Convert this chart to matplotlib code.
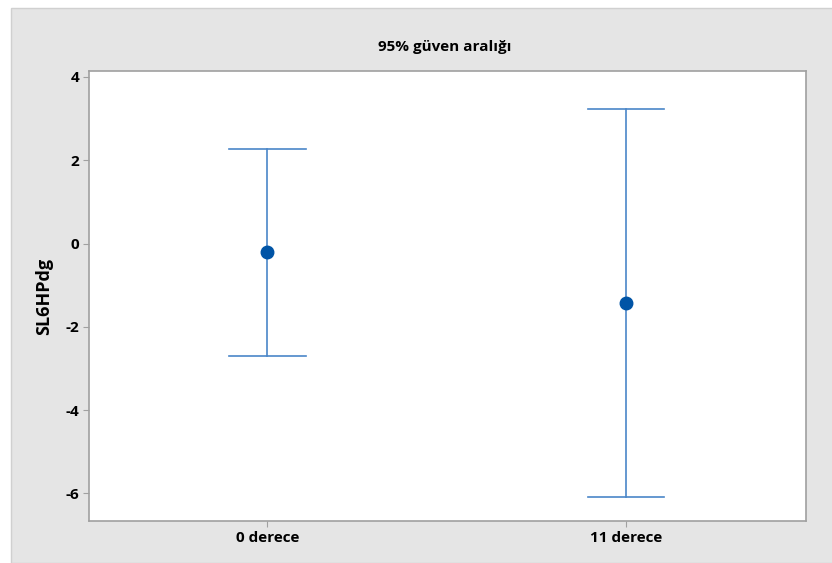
import matplotlib.pyplot as plt
from matplotlib.patches import Rectangle

# data (mean and 95% CI bounds)
groups = ["0 derece", "11 derece"]
means = [-0.21, -1.42]
lower = [-2.70, -6.09]
upper = [2.27, 3.23]
y_ticks = [-6, -4, -2, 0, 2, 4]

plt.rcParams['font.family'] = ['Open Sans', 'DejaVu Sans']

fig = plt.figure(figsize=(8.32, 5.63), dpi=100)
fig.patch.set_facecolor("white")
# minitab style grey panel, behind the axes
fig.patches.append(Rectangle((11 / 832, 0), 1, 1 - 8 / 563, transform=fig.transFigure,
                             facecolor="#e5e5e5", edgecolor="#d0d0d0", lw=1, zorder=-10))

ax = fig.add_axes([89 / 832, 42 / 563, 717 / 832, 450 / 563])
ax.set_facecolor("white")

x = [1, 2]
line_col = "#4a86c8"
for xi, m, lo, hi in zip(x, means, lower, upper):
    ax.plot([xi, xi], [lo, hi], color=line_col, lw=1.2, zorder=2)
    ax.plot([xi - 0.107, xi + 0.107], [lo, lo], color=line_col, lw=1.2, zorder=2)
    ax.plot([xi - 0.107, xi + 0.107], [hi, hi], color=line_col, lw=1.2, zorder=2)
ax.plot(x, means, "o", color="#0054a6", ms=9, zorder=3)

ax.set_xlim(0.503, 2.502)
ax.set_ylim(-6.665, 4.144)
ax.set_xticks(x)
ax.set_xticklabels(groups, fontweight="bold", fontsize=11)
ax.set_yticks(y_ticks)
ax.set_yticklabels([str(t) for t in y_ticks], fontweight="bold", fontsize=11)
ax.tick_params(length=4, width=0.8, color="#a0a0a0", pad=3)

for s in ax.spines.values():
    s.set_color("#a0a0a0")
    s.set_linewidth(1.2)

ax.set_ylabel("SL6HPdg", fontweight="bold", fontsize=13, labelpad=9)
fig.text(445 / 832, 1 - 47 / 563, "95% güven aralığı", ha="center", va="center",
         fontweight="bold", fontsize=11)

fig.savefig("out.png", dpi=100)
